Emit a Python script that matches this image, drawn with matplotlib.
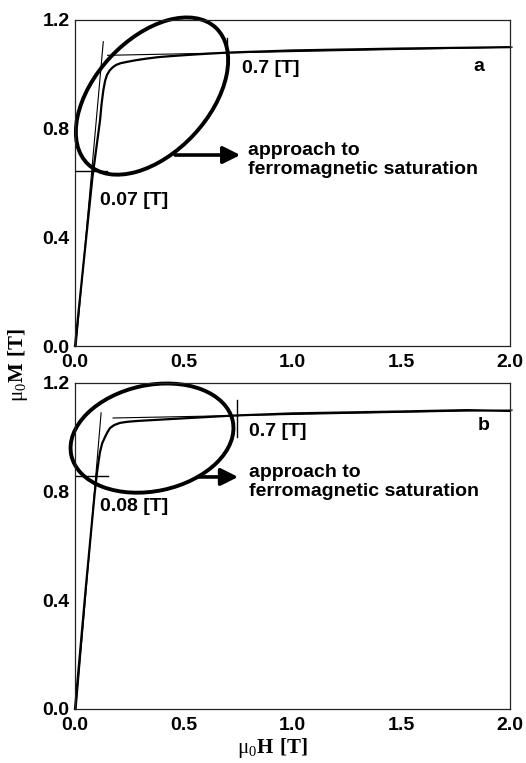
import matplotlib
matplotlib.use("Agg")
import matplotlib.pyplot as plt
import matplotlib.transforms as mtransforms
from matplotlib.patches import Ellipse

# magnetization curves, mu0*H [T] vs mu0*M [T]
h_a = [0, 0.04, 0.08, 0.10, 0.115, 0.122, 0.13, 0.138, 0.147, 0.16, 0.175,
       0.19, 0.21, 0.24, 0.28, 0.33, 0.38, 0.44, 0.55, 0.7, 1.0, 1.5, 2.0]
m_a = [0, 0.31, 0.62, 0.74, 0.83, 0.89, 0.94, 0.975, 0.998, 1.015, 1.027,
       1.035, 1.041, 1.046, 1.052, 1.058, 1.063, 1.067, 1.073, 1.08, 1.088,
       1.095, 1.10]

h_b = [0, 0.05, 0.09, 0.101, 0.108, 0.115, 0.125, 0.138, 0.15, 0.161, 0.18,
       0.207, 0.24, 0.285, 0.35, 0.437, 0.55, 0.73, 1.0, 1.5, 1.8, 2.0]
m_b = [0, 0.45, 0.79, 0.869, 0.91, 0.946, 0.978, 1.001, 1.02, 1.034, 1.045,
       1.053, 1.057, 1.060, 1.063, 1.067, 1.072, 1.08, 1.088, 1.095, 1.10,
       1.097]

# construction lines: initial slope, saturation line, crossing level, marker at 0.7 T
init_a = ([0.005, 0.13], [0.0, 1.12])
init_b = ([0.005, 0.12], [0.0, 1.09])
sat_a = ([0.15, 2.01], [1.07, 1.10])
sat_b = ([0.175, 2.01], [1.071, 1.10])
level_a = ([0.0, 0.147], [0.644, 0.644])
level_b = ([0.0, 0.153], [0.858, 0.858])
mark_a = ([0.70, 0.70], [1.05, 1.135])
mark_b = ([0.745, 0.745], [1.0, 1.137])

x_ticks = [0.0, 0.5, 1.0, 1.5, 2.0]
y_ticks = [0.0, 0.4, 0.8, 1.2]

sans = ["Liberation Sans", "DejaVu Sans"]
plt.rcParams["mathtext.fontset"] = "custom"
plt.rcParams["mathtext.rm"] = "Liberation Serif"
plt.rcParams["mathtext.bf"] = "Liberation Serif:bold"

fig = plt.figure(figsize=(5.26, 7.63), dpi=100)
ax_a = fig.add_axes([0.1426, 0.5465, 0.827, 0.4273])
ax_b = fig.add_axes([0.1426, 0.0708, 0.827, 0.4273])


def ring(ax, xy, w, h, angle):
    # ellipse sized in points, centred on a data point
    tr = mtransforms.Affine2D().scale(fig.dpi / 72.0) + \
        mtransforms.ScaledTranslation(xy[0], xy[1], ax.transData)
    ax.add_patch(Ellipse((0, 0), w, h, angle=angle, transform=tr,
                         fill=False, lw=2.8, ec="black", clip_on=False))


def panel(ax, h, m, init, sat, level, mark, ell, arrow, txt_xy,
          lab_07, lab_small, small_txt, letter_xy, letter):
    ax.plot(h, m, color="black", lw=1.6, clip_on=False)
    ax.plot(*init, color="black", lw=0.8)
    ax.plot(*sat, color="black", lw=0.8, clip_on=False)
    ax.plot(*level, color="black", lw=1.0)
    ax.plot(*mark, color="black", lw=1.0, clip_on=False)
    ring(ax, *ell)
    ax.annotate("", xy=arrow[1], xytext=arrow[0],
                arrowprops=dict(arrowstyle="-|>", lw=2.6, color="black",
                                mutation_scale=26, shrinkA=0, shrinkB=0))
    ax.text(*txt_xy, "approach to\nferromagnetic saturation", family=sans,
            fontweight="bold", fontsize=14, va="top", ha="left",
            linespacing=1.1)
    ax.text(*lab_07, "0.7 [T]", family=sans, fontweight="bold",
            fontsize=14, va="center", ha="left")
    ax.text(*lab_small, small_txt, family=sans, fontweight="bold",
            fontsize=14, va="center", ha="left")
    ax.text(*letter_xy, letter, family=sans, fontweight="bold",
            fontsize=14, va="center", ha="left")

    ax.set_xlim(0, 2.0)
    ax.set_ylim(0, 1.2)
    ax.set_xticks(x_ticks)
    ax.set_yticks(y_ticks)
    ax.set_xticklabels([f"{v:.1f}" for v in x_ticks], family=sans,
                       fontweight="bold", fontsize=14)
    ax.set_yticklabels([f"{v:.1f}" for v in y_ticks], family=sans,
                       fontweight="bold", fontsize=14)
    ax.tick_params(axis="both", length=0)
    ax.tick_params(axis="x", pad=5.5)
    ax.tick_params(axis="y", pad=4)
    for s in ax.spines.values():
        s.set_linewidth(0.9)
        s.set_color("#222222")


panel(ax_a, h_a, m_a, init_a, sat_a, level_a, mark_a,
      ((0.354, 0.920), 134.6, 82.0, 47.0),
      ((0.46, 0.703), (0.76, 0.703)), (0.795, 0.75),
      (0.77, 1.02), (0.115, 0.537), "0.07 [T]", (1.83, 1.03), "a")
panel(ax_b, h_b, m_b, init_b, sat_b, level_b, mark_b,
      ((0.354, 0.997), 118.8, 76.3, 12.0),
      ((0.565, 0.854), (0.75, 0.854)), (0.80, 0.90),
      (0.80, 1.02), (0.115, 0.747), "0.08 [T]", (1.85, 1.045), "b")

fig.text(0.517, 0.0197, r"$\mathrm{μ}_0\mathbf{H\ [T]}$", fontsize=15,
         ha="center", va="center")
fig.text(0.034, 0.522, r"$\mathrm{μ}_0\mathbf{M\ [T]}$", rotation=90,
         fontsize=15, ha="center", va="center")

fig.savefig("out.png", dpi=100)
